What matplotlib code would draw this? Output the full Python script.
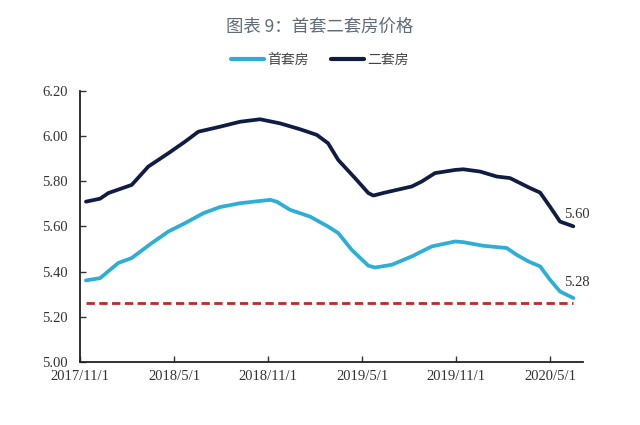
import matplotlib
matplotlib.use("Agg")
import matplotlib.pyplot as plt

plt.rcParams['font.family'] = ['Liberation Serif', 'Noto Sans CJK SC', 'DejaVu Sans']

# months since 2017/11/1
x_second = [0.38, 1.28, 1.81, 3.30, 4.36, 5.64, 6.70, 7.55, 8.93, 10.21, 11.49,
            12.76, 14.04, 15.11, 15.83, 16.48, 17.55, 18.40, 18.72, 19.46, 21.17,
            21.81, 22.65, 23.93, 24.46, 25.53, 26.59, 27.44, 28.72, 29.36, 29.99,
            30.63, 31.48]
v_second = [5.709, 5.722, 5.747, 5.783, 5.864, 5.923, 5.974, 6.018, 6.040, 6.062,
            6.073, 6.055, 6.029, 6.004, 5.967, 5.893, 5.813, 5.747, 5.736, 5.749,
            5.776, 5.798, 5.835, 5.849, 5.852, 5.842, 5.820, 5.813, 5.769, 5.749,
            5.687, 5.621, 5.600]

x_first = [0.38, 1.28, 2.44, 3.30, 4.58, 5.64, 6.70, 7.87, 8.93, 10.21, 12.13,
           12.55, 13.40, 14.68, 15.83, 16.48, 17.34, 18.40, 18.83, 19.89, 21.17,
           22.44, 23.93, 24.46, 25.74, 27.23, 27.87, 28.61, 29.36, 29.99, 30.63,
           31.48]
v_first = [5.361, 5.371, 5.438, 5.460, 5.526, 5.577, 5.614, 5.658, 5.685, 5.702,
           5.717, 5.709, 5.673, 5.643, 5.599, 5.570, 5.496, 5.426, 5.418, 5.430,
           5.467, 5.511, 5.533, 5.530, 5.514, 5.504, 5.474, 5.445, 5.423, 5.364,
           5.312, 5.283]

ref_level = 5.26
tick_pos = [0, 6, 12, 18, 24, 30]
tick_labels = ['2017/11/1', '2018/5/1', '2018/11/1', '2019/5/1', '2019/11/1', '2020/5/1']
y_ticks = [5.00, 5.20, 5.40, 5.60, 5.80, 6.00, 6.20]

c_first = '#2eaed6'
c_second = '#101c44'

fig = plt.figure(figsize=(6.4, 4.25), dpi=100)
ax = fig.add_axes([0.125, 0.148, 0.786, 0.639])

ax.plot(x_first, v_first, color=c_first, lw=2.7, label='首套房',
        solid_capstyle='round', solid_joinstyle='round')
ax.plot(x_second, v_second, color=c_second, lw=2.7, label='二套房',
        solid_capstyle='round', solid_joinstyle='round')
ax.plot([x_first[0], x_first[-1]], [ref_level, ref_level], color='#c0282d', lw=2,
        ls=(0, (3, 1.6)))

ax.text(x_second[-1] - 0.6, v_second[-1] + 0.05, '%.2f' % v_second[-1], fontsize=10.5,
        color='#333333', ha='left', va='center')
ax.text(x_first[-1] - 0.6, v_first[-1] + 0.07, '%.2f' % v_first[-1], fontsize=10.5,
        color='#333333', ha='left', va='center')

ax.set_xlim(0, 32.1)
ax.set_ylim(5.0, 6.2)
ax.set_xticks(tick_pos)
ax.set_xticklabels(tick_labels)
ax.set_yticks(y_ticks)
ax.set_yticklabels(['%.2f' % t for t in y_ticks])
ax.tick_params(axis='both', direction='in', length=4, width=1, labelsize=10.5,
               colors='#333333')
ax.tick_params(axis='x', pad=6)
ax.tick_params(axis='y', pad=9)
for s in ['top', 'right']:
    ax.spines[s].set_visible(False)
for s in ['left', 'bottom']:
    ax.spines[s].set_linewidth(1.3)
    ax.spines[s].set_color('#222222')

fig.text(0.5, 0.938, '图表 9：首套二套房价格', ha='center', va='center', fontsize=12.5,
         color='#5f6b78', family=['Noto Sans CJK SC', 'DejaVu Sans'])

leg = fig.legend(loc='center', bbox_to_anchor=(0.5, 0.859), ncol=2, frameon=False,
                 handlelength=2.4, columnspacing=1.6, handletextpad=0.2,
                 prop={'family': ['Noto Sans CJK SC'], 'size': 10})
for t in leg.get_texts():
    t.set_color('#444444')
for h in leg.get_lines():
    h.set_linewidth(3)

fig.savefig('out.png', dpi=100)
